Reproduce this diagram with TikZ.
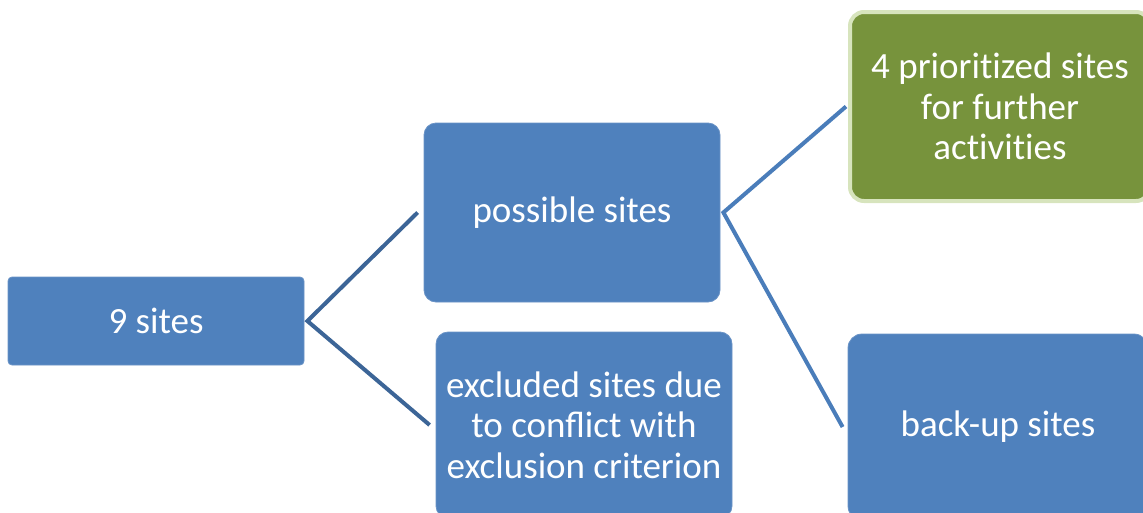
\documentclass[tikz,border=0pt]{standalone}
\usepackage{fontspec}
\setmainfont{Carlito}
\definecolor{boxblue}{HTML}{4F81BD}
\definecolor{boxedge}{HTML}{6A93C6}
\definecolor{linkdark}{HTML}{3C6597}
\definecolor{linklight}{HTML}{4A7DBA}
\definecolor{boxgreen}{HTML}{77933C}
\definecolor{greenedge}{HTML}{D7E4BD}
\tikzset{
  site/.style={draw=boxedge, line width=0.8pt, fill=boxblue, text=white,
    rounded corners=#1, align=center, inner sep=0pt,
    font=\fontsize{37}{40.5}\selectfont},
  site/.default=4pt,
  link/.style={line width=4pt, draw=#1}
}
\begin{document}
\begin{tikzpicture}[x=1pt,y=-1pt]
  \useasboundingbox (0,0) rectangle (1143,512);
  \clip (0,0) rectangle (1143,512);
  \node[site, minimum width=296pt, minimum height=88pt] (sites) at (156,321) {9 sites};
  \node[site=12pt, minimum width=296pt, minimum height=179pt] (possible) at (572,212.5) {possible sites};
  \node[site=12pt, minimum width=296pt, minimum height=186pt] (excluded) at (584,425)
    {excluded sites due\\to conflict with\\exclusion criterion};
  \node[site=14pt, draw=greenedge, line width=4pt, fill=boxgreen,
    minimum width=300pt, minimum height=189pt] (prio) at (1000,106.5)
    {4 priorit\kern0pt ized sites\\for further\\act\kern0pt ivit\kern0pt ies};
  \node[site=14pt, minimum width=300pt, minimum height=186pt] (backup) at (998,427) {back-up sites};
  \coordinate (fork1) at ([xshift=3pt]sites.east);
  \coordinate (fork2) at ([xshift=3pt]possible.east);
  \draw[link=linkdark] ([xshift=-6pt]possible.west) -- (fork1) -- ([xshift=-6pt]excluded.west);
  \draw[link=linklight] ([xshift=-2pt]prio.west) -- (fork2) -- ([xshift=-5pt]backup.west);
\end{tikzpicture}
\end{document}
